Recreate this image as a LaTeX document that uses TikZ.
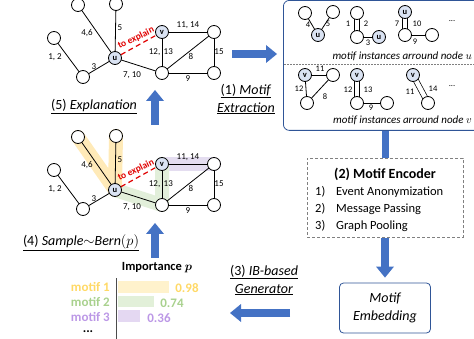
\documentclass[tikz,border=0pt]{standalone}
\usepackage{fontspec}
\setmainfont{Carlito}
\usetikzlibrary{arrows.meta}
\pgfdeclarelayer{bg}
\pgfsetlayers{bg,main}
\definecolor{ublue}{HTML}{DAE3F3}
\definecolor{arrblue}{HTML}{4472C4}
\definecolor{boxblue}{HTML}{2F5597}
\definecolor{hlorange}{HTML}{FFEAB8}
\definecolor{hlgreen}{HTML}{E2EFDA}
\definecolor{hlpurple}{HTML}{E4DDF0}
\definecolor{txtone}{HTML}{FFD966}
\definecolor{txttwo}{HTML}{A9D18E}
\definecolor{txtthree}{HTML}{BC98E6}
\definecolor{barone}{HTML}{FFF2CC}
\definecolor{bartwo}{HTML}{E2F0D9}
\definecolor{barthree}{HTML}{E4D8F2}
\definecolor{redx}{HTML}{E00000}
\newcommand\setfs[2]{\fontsize{#1}{#2}\selectfont}
\newcommand\graphnodes{%
  \node[gn] (A) at (78,5) {};
  \node[gn] (B) at (116,4) {};
  \node[gn] (C) at (54,38) {};
  \node[un] (u) at (115,58) {u};
  \node[gn] (D) at (83,77) {};
  \node[un] (v) at (162,32) {v};
  \node[gn] (E) at (214,32) {};
  \node[gn] (F) at (162,73) {};
  \node[gn] (G) at (214,73) {};
  \draw[redx, line width=1.2pt, dash pattern=on 5pt off 3.5pt] (u) -- (v);
  \node[redx, font=\bfseries\setfs{9.5}{10}, rotate=26, inner sep=0] (tx) at (136,38) {to explain};
  \node[el] (l46) at (87,33) {4,6};
  \node[el] (l5) at (120,28) {5};
  \node[el] (l12) at (55,57) {1, 2};
  \node[el] (l3) at (94,67) {3};
  \node[el] (l710) at (132,75) {7, 10};
  \node[el] (l1114) at (188,25) {11, 14};
  \node[el, anchor=east] (l12a) at (160.5,52) {12,};
  \node[el, anchor=west] (l13a) at (163.5,52) {13};
  \node[el] (l8) at (191,56) {8};
  \node[el] (l15) at (219,52) {15};
  \node[el] (l9) at (188,79) {9};
}
\newcommand\graphedges{%
  \draw[ge] (A.center) -- (u.center);
  \draw[ge] (B.center) -- (u.center);
  \draw[ge] (C.center) -- (D.center);
  \draw[ge] (D.center) -- (u.center);
  \draw[ge] (u.center) -- (F.center);
  \draw[ge] (v.center) -- (E.center);
  \draw[ge] (v.center) -- (F.center);
  \draw[ge] (F.center) -- (E.center);
  \draw[ge] (E.center) -- (G.center);
  \draw[ge] (F.center) -- (G.center);
}
\begin{document}
\begin{tikzpicture}[x=1pt,y=-1pt,
  gn/.style={circle, draw, line width=0.8pt, fill=white, minimum size=13pt, inner sep=0},
  un/.style={gn, fill=ublue, font=\bfseries\setfs{8.5}{9}},
  ge/.style={line width=0.8pt},
  dbl/.style={line width=0.7pt, double, double distance=4.5pt},
  el/.style={font=\setfs{9}{10}, inner sep=0},
  ml/.style={font=\setfs{8.5}{9}, inner sep=0},
  hl/.style={line width=14pt, line cap=round, line join=round},
  barrow/.style={line width=8pt, arrblue, -{Triangle[length=11pt, width=18pt, line width=0pt]}},
  lab/.style={font=\setfs{14}{18}, align=center, inner sep=0},
  mtxt/.style={font=\itshape\setfs{11}{12}, inner sep=0}
]
\useasboundingbox (0,0) rectangle (474,339);

% ---- top graph
\begin{scope}[name prefix=t-]
  \graphnodes
  \begin{pgfonlayer}{bg}
    \graphedges
  \end{pgfonlayer}
\end{scope}

% ---- bottom graph (explanation)
\begin{scope}[shift={(0,132)}, name prefix=b-]
  \graphnodes
  \begin{pgfonlayer}{bg}
    \draw[hl, hlpurple] (v.center) -- (E.center);
    \draw[hl, hlgreen] (u.center) -- (F.center) -- (v.center);
    \draw[hl, hlorange] (A.center) -- (u.center) -- (B.center);
    \graphedges
  \end{pgfonlayer}
\end{scope}

% ---- motif box
\node[draw=boxblue, line width=0.8pt, rounded corners=6pt, minimum width=210pt, minimum height=130pt, anchor=north west, inner sep=0] (mbox) at (283,0) {};
\draw[gray, line width=0.6pt, dash pattern=on 1.5pt off 1.5pt] (284,64) -- (474,64);

% motifs around u
\node[gn] (m1a) at (305,13) {};
\node[gn] (m1b) at (333,12) {};
\node[un] (m1u) at (318,35) {u};
\node[gn] (m2a) at (357,13) {};
\node[gn] (m2b) at (357,37) {};
\node[un] (m2u) at (379,37) {u};
\node[un] (m3u) at (405,12) {u};
\node[gn] (m3b) at (405,35) {};
\node[gn] (m3c) at (432,35) {};
\begin{pgfonlayer}{bg}
  \draw[ge] (m1a.center) -- (m1u.center);
  \draw[ge] (m1b.center) -- (m1u.center);
  \draw[dbl] (m2a.center) -- (m2b.center);
  \draw[ge] (m2b.center) -- (m2u.center);
  \draw[dbl] (m3u.center) -- (m3b.center);
  \draw[ge] (m3b.center) -- (m3c.center);
\end{pgfonlayer}
\node[ml] (q4) at (308,25) {4};
\node[ml] (q5) at (328,24) {5};
\node[ml] (q1) at (348,24) {1};
\node[ml] (q2) at (366,24) {2};
\node[ml] (q3) at (368,43) {3};
\node[ml] (q7) at (397,24) {7};
\node[ml] (q10) at (417,24) {10};
\node[ml] (q9) at (415,42) {9};
\node[ml] (qd) at (452,21) {...};
\node[mtxt, anchor=east] (tu) at (472,56) {motif instances arround node $u$};

% motifs around v
\node[un] (n1v) at (305,75) {v};
\node[gn] (n1b) at (333,75) {};
\node[gn] (n1c) at (307,103) {};
\node[un] (n2v) at (357,75) {v};
\node[gn] (n2b) at (357,103) {};
\node[gn] (n2c) at (387,103) {};
\node[un] (n3v) at (413,75) {v};
\node[gn] (n3b) at (428,103) {};
\begin{pgfonlayer}{bg}
  \draw[ge] (n1v.center) -- (n1b.center);
  \draw[ge] (n1v.center) -- (n1c.center);
  \draw[ge] (n1b.center) -- (n1c.center);
  \draw[dbl] (n2v.center) -- (n2b.center);
  \draw[ge] (n2b.center) -- (n2c.center);
  \draw[dbl] (n3v.center) -- (n3b.center);
\end{pgfonlayer}
\node[ml] (r11) at (320,69) {11};
\node[ml] (r12) at (299,89) {12};
\node[ml] (r8) at (325,97) {8};
\node[ml] (s12) at (348,90) {12};
\node[ml] (s13) at (368,90) {13};
\node[ml] (s9) at (371,108) {9};
\node[ml] (w11) at (410,92) {11};
\node[ml] (w14) at (433,89) {14};
\node[ml] (wd) at (452,86) {...};
\node[mtxt, anchor=east] (tv) at (472,120) {motif instances arround node $v$};

% ---- encoder
\node[draw=gray, line width=0.8pt, dash pattern=on 3pt off 2pt, minimum width=156pt, minimum height=79pt, inner sep=0] (enc) at (385,198) {};
\node[font=\bfseries\setfs{14}{16}, inner sep=0] (enct) at (385,174) {(2) Motif Encoder};
\node[font=\setfs{12.5}{14}, anchor=west, inner sep=0] (e1n) at (315,192) {1)};
\node[font=\setfs{12.5}{14}, anchor=west, inner sep=0] (e1) at (336,192) {Event Anonymization};
\node[font=\setfs{12.5}{14}, anchor=west, inner sep=0] (e2n) at (315,209) {2)};
\node[font=\setfs{12.5}{14}, anchor=west, inner sep=0] (e2) at (336,209) {Message Passing};
\node[font=\setfs{12.5}{14}, anchor=west, inner sep=0] (e3n) at (315,226) {3)};
\node[font=\setfs{12.5}{14}, anchor=west, inner sep=0] (e3) at (336,226) {Graph Pooling};

% ---- motif embedding
\node[draw=boxblue, line width=0.8pt, rounded corners=4pt, minimum width=91pt, minimum height=50pt, align=center, font=\itshape\setfs{14}{18}] (emb) at (385,308) {Motif\\Embedding};

% ---- block arrows
\coordinate (a1s) at (232,54);
\coordinate (a1e) at (277,54);
\draw[barrow] (a1s) -- (a1e);
\draw[line width=7pt, arrblue] (enc.north |- mbox.south) -- (enc.north);
\draw[barrow, shorten >=5pt] (enc.south) -- (emb.north);
\coordinate (a3s) at (290,313);
\coordinate (a3e) at (230,313);
\draw[barrow] (a3s) -- (a3e);
\coordinate (a4s) at (155,258);
\coordinate (a4e) at (155,223);
\draw[barrow] (a4s) -- (a4e);
\coordinate (a5s) at (155,125);
\coordinate (a5e) at (155,90);
\draw[barrow] (a5s) -- (a5e);

% ---- step labels
\node[lab] (s1) at (246,99) {\underline{(1) \textit{Motif}}\\\underline{\textit{Extraction}}};
\node[lab] (s5) at (94,107) {\underline{(5) \textit{Explanation}}};
\node[lab] (s4) at (81,243) {\underline{(4) \textit{Sample}$\sim$\textit{Bern}$(p)$}};
\node[lab] (s3) at (264,280) {\underline{(3) \textit{IB-based}}\\\underline{\textit{Generator}}};

% ---- importance chart
\node[font=\bfseries\setfs{12.5}{14}, inner sep=0] (imp) at (157,268) {Importance {\boldmath$p$}};
\draw[gray!60!black, line width=1pt] (116,278) -- (116,341);
\fill[barone] (118,281) rectangle (169,293);
\fill[bartwo] (118,296) rectangle (154,307);
\fill[barthree] (118,310) rectangle (140,322);
\node[txtone, font=\bfseries\setfs{13}{14}, anchor=east, inner sep=0] (k1) at (110,287) {motif 1};
\node[txttwo, font=\bfseries\setfs{13}{14}, anchor=east, inner sep=0] (k2) at (110,302) {motif 2};
\node[txtthree, font=\bfseries\setfs{13}{14}, anchor=east, inner sep=0] (k3) at (110,317) {motif 3};
\node[txtone, font=\bfseries\setfs{13}{14}, inner sep=0] (v1) at (187,288) {0.98};
\node[txttwo, font=\bfseries\setfs{13}{14}, inner sep=0] (v2) at (172,303) {0.74};
\node[txtthree, font=\bfseries\setfs{13}{14}, inner sep=0] (v3) at (159,318) {0.36};
\node[font=\bfseries\setfs{13}{14}, inner sep=0] (kd) at (88,332) {...};
\end{tikzpicture}
\end{document}
